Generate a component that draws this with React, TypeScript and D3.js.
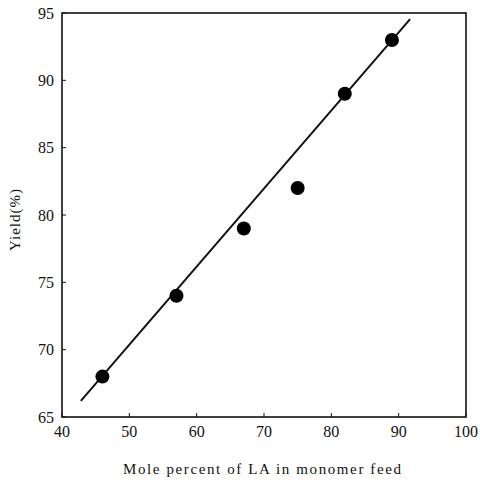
import React from "react";
import * as d3 from "d3";

const moleLA = [46, 57, 67, 75, 82, 89];
const yieldPct = [68, 74, 79, 82, 89, 93];
const fitX = [42.8, 91.7];
const fitY = [66.2, 94.55];
const xTicks = [40, 50, 60, 70, 80, 90, 100];
const yTicks = [65, 70, 75, 80, 85, 90, 95];

export default function App() {
  const W = 480, H = 484;
  const x = d3.scaleLinear().domain([40, 100]).range([62, 466]);
  const y = d3.scaleLinear().domain([65, 95]).range([417, 13]);
  const line = d3.line<number>().x((d) => x(fitX[d])).y((d) => y(fitY[d]));
  const font = "'Liberation Serif', 'DejaVu Serif', serif";
  return (
    <svg width={W} height={H} style={{ position: "absolute", left: 0, top: 0 }} fontFamily={font}>
      <rect x={0} y={0} width={W} height={H} fill="#fff" />
      <rect x={x(40)} y={y(95)} width={x(100) - x(40)} height={y(65) - y(95)} fill="none" stroke="#111" strokeWidth={1.6} />
      {yTicks.map((t) => (
        <g key={"y" + t}>
          <line x1={x(40)} x2={x(40) + 4} y1={y(t)} y2={y(t)} stroke="#111" strokeWidth={1} />
          <text x={x(40) - 8} y={y(t)} dy="0.35em" textAnchor="end" fontSize={16} fill="#111">{t}</text>
        </g>
      ))}
      {xTicks.map((t) => (
        <g key={"x" + t}>
          <line x1={x(t)} x2={x(t)} y1={y(65)} y2={y(65) - 4} stroke="#111" strokeWidth={1} />
          <text x={x(t)} y={y(65) + 20} textAnchor="middle" fontSize={16} fill="#111">{t}</text>
        </g>
      ))}
      <path d={line([0, 1]) || ""} fill="none" stroke="#111" strokeWidth={2} />
      {moleLA.map((v, i) => (
        <circle key={i} cx={x(v)} cy={y(yieldPct[i])} r={7} fill="#000" />
      ))}
      <text x={262} y={474} textAnchor="middle" fontSize={15} textLength={278} lengthAdjust="spacing" fill="#111">Mole percent of LA in monomer feed</text>
      <text transform={`translate(20,${220}) rotate(-90)`} textAnchor="middle" fontSize={15} textLength={62} lengthAdjust="spacing" fill="#111">Yield(%)</text>
    </svg>
  );
}
